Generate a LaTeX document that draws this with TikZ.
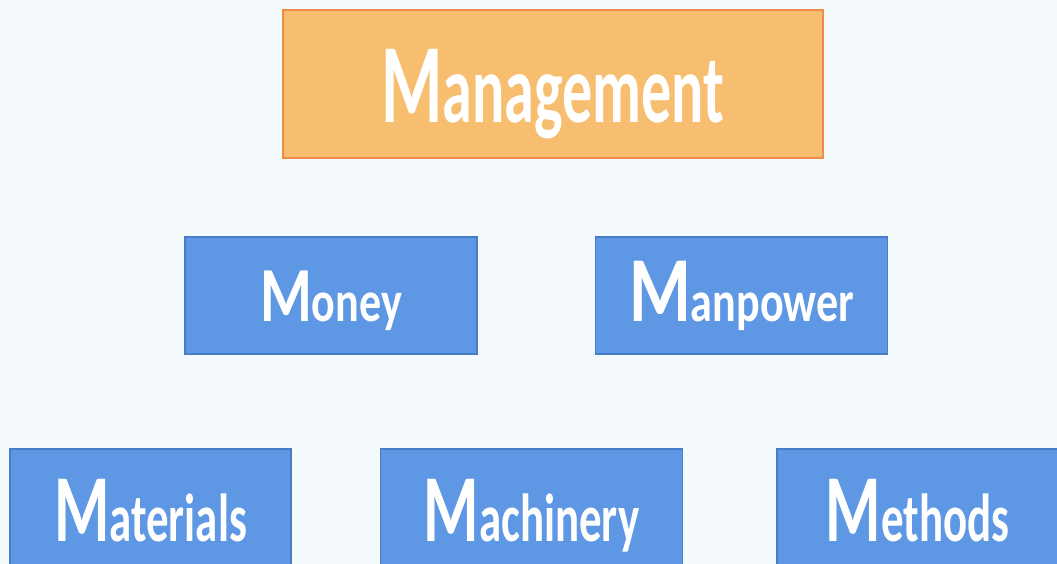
\documentclass[tikz,border=0pt]{standalone}
\usepackage{fontspec}
\setmainfont{Carlito}
\usetikzlibrary{positioning}

\definecolor{paper}{RGB}{244,249,252}
\definecolor{mgmtfill}{RGB}{246,190,110}
\definecolor{mgmtline}{RGB}{238,140,70}
\definecolor{mfill}{RGB}{94,152,228}
\definecolor{mline}{RGB}{70,124,200}

% big initial M, rest of the word smaller, squeezed sideways
\newcommand{\mword}[4]{\scalebox{#4}[1]{{\fontsize{#1}{#1}\selectfont M}{\fontsize{#2}{#2}\selectfont #3}}}

\begin{document}
\begin{tikzpicture}[x=1pt,y=-1pt,
	box/.style = {rectangle, draw, line width=1.6pt, inner sep=0pt,
		text=white, font=\bfseries, text depth=0pt},
	top box/.style = {box, fill=mgmtfill, draw=mgmtline,
		minimum width=540pt, minimum height=148pt, text height=78pt},
	mid box/.style = {box, fill=mfill, draw=mline,
		minimum width=292pt, minimum height=117pt, text height=51pt},
	low box/.style = {box, fill=mfill, draw=mline,
		minimum width=281pt, minimum height=117pt, text height=67pt}]
	
	\fill[paper] (0,0) rectangle (1057,564);
	\useasboundingbox (0,0) rectangle (1057,564);
	
	\node[top box] (mgmt) at (553,84) {\mword{113}{97}{anagement}{0.62}};
	
	\node[mid box] (money) at (331,295.5) {\mword{78}{58}{oney}{0.76}};
	\node[mid box] [right=117pt of money] (manpower) {\mword{93}{58}{anpower}{0.76}};
	
	\node[low box] (materials) at (150.5,507.5) {\mword{96}{68}{aterials}{0.66}};
	\node[low box,minimum width=302pt] [right=88pt of materials] (machinery) {\mword{96}{68}{achinery}{0.66}};
	\node[low box] [right=93pt of machinery] (methods) {\mword{96}{68}{ethods}{0.66}};
	
\end{tikzpicture}
\end{document}
